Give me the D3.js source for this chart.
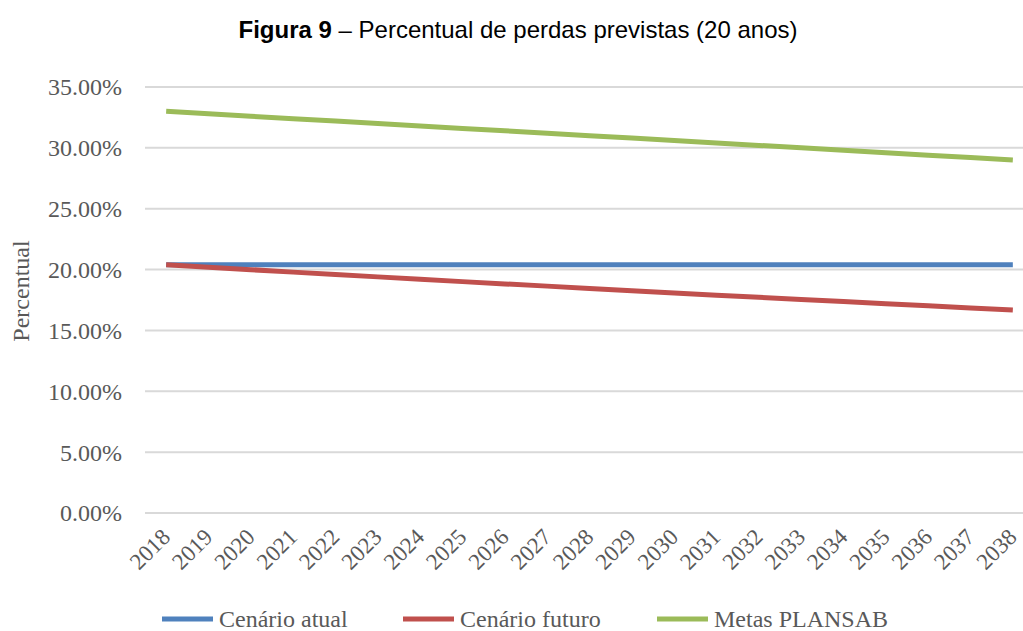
<!DOCTYPE html>
<html>
<head>
<meta charset="utf-8">
<script src="https://cdn.jsdelivr.net/npm/d3@7"></script>
<style>
  body { margin: 0; background: #fff; }
  svg { display: block; }
</style>
</head>
<body>
<div id="chart"></div>
<script>
// data
var years = ["2018","2019","2020","2021","2022","2023","2024","2025","2026","2027",
  "2028","2029","2030","2031","2032","2033","2034","2035","2036","2037","2038"];
var cenarioAtual = [20.4,20.4,20.4,20.4,20.4,20.4,20.4,20.4,20.4,20.4,
  20.4,20.4,20.4,20.4,20.4,20.4,20.4,20.4,20.4,20.4,20.4];
var cenarioFuturo = [20.40,20.20,19.99,19.79,19.60,19.40,19.21,19.01,18.82,18.64,
  18.45,18.26,18.08,17.90,17.72,17.54,17.37,17.19,17.02,16.85,16.68];
var metasPlansab = [33.0,32.8,32.6,32.4,32.2,32.0,31.8,31.6,31.4,31.2,
  31.0,30.8,30.6,30.4,30.2,30.0,29.8,29.6,29.4,29.2,29.0];
var yTicks = [0, 5, 10, 15, 20, 25, 30, 35];

var series = [
  { name: "Cenário atual", values: cenarioAtual, color: "#4F81BD" },
  { name: "Cenário futuro", values: cenarioFuturo, color: "#C0504D" },
  { name: "Metas PLANSAB", values: metasPlansab, color: "#9BBB59" }
];

var width = 1023, height = 631;
var plotLeft = 145, plotRight = 1034, plotTop = 87, plotBottom = 513;

var svg = d3.select("#chart").append("svg")
  .attr("width", width)
  .attr("height", height);

var x = d3.scalePoint().domain(years).range([plotLeft, plotRight]).padding(0.5);
var y = d3.scaleLinear().domain([0, 35]).range([plotBottom, plotTop]);

// title
var title = svg.append("text")
  .attr("x", 518).attr("y", 38)
  .attr("text-anchor", "middle")
  .style("font-family", "'Liberation Sans', Arial, sans-serif")
  .style("font-size", "24px")
  .style("fill", "#000");
title.append("tspan").style("font-weight", "bold").text("Figura 9");
title.append("tspan").text(" – Percentual de perdas previstas (20 anos)");

// gridlines
svg.append("g")
  .selectAll("line")
  .data(yTicks)
  .enter()
  .append("line")
  .attr("x1", plotLeft).attr("x2", plotRight)
  .attr("y1", d => y(d)).attr("y2", d => y(d))
  .attr("stroke", "#D9D9D9")
  .attr("stroke-width", 2);

// y labels
svg.append("g")
  .selectAll("text")
  .data(yTicks)
  .enter()
  .append("text")
  .attr("x", 122)
  .attr("y", d => y(d))
  .attr("dy", "0.35em")
  .attr("text-anchor", "end")
  .style("font-family", "'Liberation Serif', serif")
  .style("font-size", "24px")
  .style("fill", "#595959")
  .text(d => d.toFixed(2) + "%");

svg.append("text")
  .attr("transform", "translate(29,291) rotate(-90)")
  .attr("text-anchor", "middle")
  .style("font-family", "'Liberation Serif', serif")
  .style("font-size", "24px")
  .style("fill", "#595959")
  .text("Percentual");

// x labels
svg.append("g")
  .selectAll("text")
  .data(years)
  .enter()
  .append("text")
  .attr("transform", d => "translate(" + (x(d) - 6) + "," + 527 + ") rotate(-45)")
  .attr("text-anchor", "end")
  .attr("dy", "0.7em")
  .style("font-family", "'Liberation Serif', serif")
  .style("font-size", "23px")
  .style("fill", "#595959")
  .text(d => d);

// lines
var line = d3.line()
  .x((d, i) => x(years[i]))
  .y(d => y(d));

svg.append("g")
  .selectAll("path")
  .data(series)
  .enter()
  .append("path")
  .attr("d", d => line(d.values))
  .attr("fill", "none")
  .attr("stroke", d => d.color)
  .attr("stroke-width", 5);

// legend
var legendX = [162, 403, 657];
var legend = svg.append("g")
  .selectAll("g")
  .data(series)
  .enter()
  .append("g")
  .attr("transform", (d, i) => "translate(" + legendX[i] + ",619)");

legend.append("line")
  .attr("x1", 0).attr("x2", 51)
  .attr("stroke", d => d.color)
  .attr("stroke-width", 5);

legend.append("text")
  .attr("x", 57)
  .attr("dy", "0.32em")
  .style("font-family", "'Liberation Serif', serif")
  .style("font-size", "24px")
  .style("fill", "#595959")
  .text(d => d.name);
</script>
</body>
</html>
